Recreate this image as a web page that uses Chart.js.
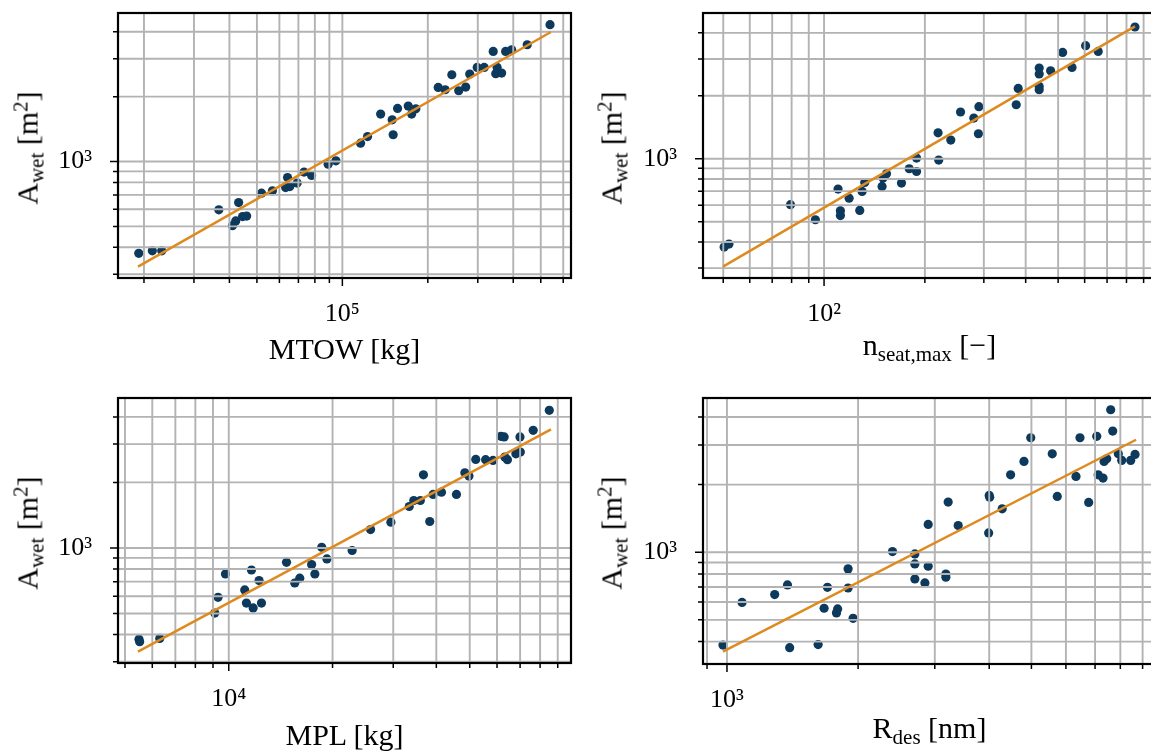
<!doctype html>
<html>
<head>
<meta charset="utf-8">
<script src="https://cdn.jsdelivr.net/npm/chart.js@4"></script>
<style>
  html, body { margin:0; padding:0; background:#fff; width:1151px; height:751px; overflow:hidden; }
  body { position:relative; font-family:"Liberation Serif", serif; color:#000; }
  canvas { position:absolute; }
  .xt, .yt { position:absolute; font-size:30px; line-height:30px; white-space:nowrap; }
  .xt { transform:translateX(-50%); }
  .yt { transform:translate(-50%, -50%) rotate(-90deg); }
  .sb { font-size:0.7em; position:relative; top:0.3em; }
  .sp { font-size:0.7em; position:relative; top:-0.5em; }
</style>
</head>
<body>
<script>
// wetted area against MTOW
const mtowKg = [19170, 21400, 23100, 36700, 43100, 41000, 42100, 44500, 46000, 51900, 56700, 63100,
  64100, 65300, 69300, 73300, 77900, 89100, 94900, 115900, 122700, 136400, 149800, 151000, 156500,
  170600, 175400, 181500, 217600, 230300, 243000, 257000, 272000, 281000, 298500, 316000, 340000,
  351000, 347000, 364000, 376000, 395000, 448000, 539000];
const awetMtow = [375, 385, 385, 597, 645, 504, 530, 555, 558, 713, 731, 757,
  843, 765, 794, 893, 861, 972, 1007, 1217, 1306, 1661, 1562, 1331, 1763,
  1808, 1661, 1757, 2207, 2153, 2527, 2130, 2215, 2547, 2733, 2733, 3243,
  2733, 2555, 2572, 3243, 3302, 3483, 4315];
const mtowFitX = [19060, 543000];
const mtowFitY = [325, 3990];

// wetted area against max seats
const nSeat = [50.3, 52.0, 79.4, 94.2, 110.1, 111.9, 111.9, 118.8, 127.8, 129.9, 132.3, 149,
  150, 153.6, 170.3, 179.6, 188.9, 188.9, 220, 219, 239, 255.6, 280, 290, 289, 374.8, 380,
  439, 439, 439, 439, 474.8, 515.7, 550, 604, 658.6, 848];
const awetSeat = [378, 391, 603, 511, 716, 564, 535, 648, 566, 698, 770, 737,
  809, 848, 765, 896, 869, 1008, 986, 1331, 1229, 1673, 1565, 1774, 1317, 1813, 2170,
  2716, 2543, 2218, 2138, 2636, 3226, 2734, 3473, 3262, 4267];
const seatFitX = [49.9, 848];
const seatFitY = [305, 4300];

// wetted area against max payload
const mplKg = [5490, 5515, 6306, 9107, 9310, 9782, 11126, 11253, 11637, 11768, 12244, 12442,
  14706, 15540, 16069, 17390, 17773, 18605, 19260, 22800, 25780, 29530, 33380, 34410, 35950,
  36700, 38280, 39160, 41400, 45760, 48400, 49740, 52060, 55600, 58410, 61580, 62930, 63200,
  64320, 68060, 70100, 69940, 76400, 85060];
const awetMpl = [381, 371, 384, 502, 593, 759, 641, 558, 792, 530, 708, 558,
  859, 690, 726, 839, 759, 1007, 890, 973, 1215, 1313, 1550, 1652, 1652,
  2168, 1323, 1761, 1804, 1761, 2214, 2138, 2551, 2545, 2525, 3256, 3236, 2615,
  2545, 2707, 2758, 3236, 3470, 4289];
const mplFitX = [5453, 86040];
const mplFitY = [334, 3507];

// wetted area against design range
const rangeNm = [979, 1083, 1287, 1377, 1393, 1619, 1671, 1701, 1784, 1795, 1897, 1897, 1948,
  2399, 2700, 2700, 2700, 2847, 2897, 2897, 3181, 3181, 3220, 3395, 4000, 4010, 3988, 4284,
  4479, 4807, 4982, 5582, 5732, 6328, 6463, 6767, 7062, 7116, 7301, 7341, 7445, 7603, 7684,
  7915, 8057, 8452, 8647];
const awetRange = [386, 598, 648, 715, 376, 388, 563, 698, 537, 559, 843, 693, 508,
  1007, 983, 887, 760, 730, 866, 1329, 800, 774, 1671, 1315, 1789, 1758, 1219, 1560,
  2211, 2536, 3231, 2742, 1771, 2174, 3231, 1665, 3279, 2211, 2137, 2536, 2605, 4307, 3461,
  2742, 2563, 2563, 2725];
const rangeFitX = [979, 8693];
const rangeFitY = [361, 3166];

// labelled decades
const awetMajor = [1000];
const awetMajorLabels = ['10³'];
const mtowMajor = [1e5];
const mtowMajorLabels = ['10⁵'];
const seatMajor = [100];
const seatMajorLabels = ['10²'];
const mplMajor = [1e4];
const mplMajorLabels = ['10⁴'];
const rangeMajor = [1000];
const rangeMajorLabels = ['10³'];

const yTitle = 'A<span class="sb">wet</span> [m<span class="sp">2</span>]';

const panels = [
  { box: [118, 13, 571, 278], xs: mtowKg, ys: awetMtow, fx: mtowFitX, fy: mtowFitY,
    xr: [16200, 639000], yr: [288, 4890], major: mtowMajor, labels: mtowMajorLabels,
    xTitle: 'MTOW [kg]', xBase: 359, yCx: 29 },
  { box: [703, 13, 1156, 278], xs: nSeat, ys: awetSeat, fx: seatFitX, fy: seatFitY,
    xr: [43.5, 980], yr: [269, 4978], major: seatMajor, labels: seatMajorLabels,
    xTitle: 'n<span class="sb">seat,max</span> [−]', xBase: 355, yCx: 613 },
  { box: [118, 398, 571, 663], xs: mplKg, ys: awetMpl, fx: mplFitX, fy: mplFitY,
    xr: [4772, 98340], yr: [296, 4886], major: mplMajor, labels: mplMajorLabels,
    xTitle: 'MPL [kg]', xBase: 745, yCx: 29 },
  { box: [703, 398, 1156, 664], xs: rangeNm, ys: awetRange, fx: rangeFitX, fy: rangeFitY,
    xr: [881, 9660], yr: [318, 4857], major: rangeMajor, labels: rangeMajorLabels,
    xTitle: 'R<span class="sb">des</span> [nm]', xBase: 738, yCx: 613 }
];

const FONT = '"Liberation Serif", serif';
const DOT = '#0d3a5c';
const FIT = '#de8a1f';
const GRID = '#b3b3b3';
const PAD = { l: 118, t: 12, r: 12, b: 62 };

// 1..9 x 10^n inside the axis range
function logTicks(min, max) {
  const out = [];
  for (let e = Math.floor(Math.log10(min)); e <= Math.ceil(Math.log10(max)); e++) {
    for (let m = 1; m < 10; m++) {
      const v = m * Math.pow(10, e);
      if (v >= min && v <= max) out.push(v);
    }
  }
  return out;
}
function isDecade(v) {
  const e = Math.log10(v);
  return Math.abs(e - Math.round(e)) < 1e-9;
}

// grid goes over the dots but under the fit line, ticks and frame on top
const axesBox = {
  id: 'axesBox',
  afterDatasetDraw(chart, args) {
    if (args.meta.type !== 'scatter') return;
    const { ctx, chartArea: a, scales: { x, y } } = chart;
    ctx.save();
    ctx.strokeStyle = GRID;
    ctx.lineWidth = 1.9;
    ctx.beginPath();
    x.ticks.forEach(t => {
      const px = x.getPixelForValue(t.value);
      ctx.moveTo(px, a.top); ctx.lineTo(px, a.bottom);
    });
    y.ticks.forEach(t => {
      const py = y.getPixelForValue(t.value);
      ctx.moveTo(a.left, py); ctx.lineTo(a.right, py);
    });
    ctx.stroke();
    ctx.restore();
  },
  afterDraw(chart) {
    const { ctx, chartArea: a, scales: { x, y } } = chart;
    ctx.save();
    ctx.strokeStyle = '#000';
    ctx.lineWidth = 1.5;
    ctx.beginPath();
    x.ticks.forEach(t => {
      const px = x.getPixelForValue(t.value);
      ctx.moveTo(px, a.bottom); ctx.lineTo(px, a.bottom + (isDecade(t.value) ? 8 : 5));
    });
    y.ticks.forEach(t => {
      const py = y.getPixelForValue(t.value);
      ctx.moveTo(a.left, py); ctx.lineTo(a.left - (isDecade(t.value) ? 8 : 5), py);
    });
    ctx.stroke();
    ctx.lineWidth = 2.2;
    ctx.strokeRect(a.left, a.top, a.right - a.left, a.bottom - a.top);
    ctx.restore();
  }
};

function axis(range, major, labels, pad, fit) {
  return {
    type: 'logarithmic',
    min: range[0],
    max: range[1],
    grid: { display: false, drawTicks: false },
    border: { display: false },
    ticks: {
      autoSkip: false,
      maxRotation: 0,
      color: '#000',
      font: { family: FONT, size: 26 },
      padding: pad,
      callback: v => {
        const i = major.findIndex(m => Math.abs(m - v) / m < 1e-9);
        return i >= 0 ? labels[i] : '';
      }
    },
    afterBuildTicks: s => { s.ticks = logTicks(range[0], range[1]).map(v => ({ value: v })); },
    afterFit: s => {
      // the box edges come from the layout padding alone
      s.paddingTop = 0; s.paddingBottom = 0; s.paddingLeft = 0; s.paddingRight = 0;
      fit(s);
    }
  };
}

panels.forEach(p => {
  const [l, t, r, b] = p.box;
  const cv = document.createElement('canvas');
  cv.width = PAD.l + (r - l) + PAD.r;
  cv.height = PAD.t + (b - t) + PAD.b;
  cv.style.left = (l - PAD.l) + 'px';
  cv.style.top = (t - PAD.t) + 'px';
  document.body.appendChild(cv);

  new Chart(cv, {
    type: 'scatter',
    data: {
      datasets: [
        {
          type: 'line',
          order: 0,
          data: p.fx.map((v, i) => ({ x: v, y: p.fy[i] })),
          borderColor: FIT,
          borderWidth: 2.5,
          pointRadius: 0,
          tension: 0,
          fill: false
        },
        {
          type: 'scatter',
          order: 1,
          data: p.xs.map((v, i) => ({ x: v, y: p.ys[i] })),
          backgroundColor: DOT,
          borderColor: DOT,
          borderWidth: 0,
          pointRadius: 4.6
        }
      ]
    },
    options: {
      responsive: false,
      animation: false,
      devicePixelRatio: 1,
      layout: { padding: { left: 0, top: PAD.t, right: PAD.r, bottom: 0 } },
      plugins: { legend: { display: false }, tooltip: { enabled: false } },
      scales: {
        x: axis(p.xr, p.major, p.labels, 21, s => { s.height = PAD.b; }),
        y: axis(p.yr, awetMajor, awetMajorLabels, 26, s => { s.width = PAD.l; })
      }
    },
    plugins: [axesBox]
  });

  const xt = document.createElement('div');
  xt.className = 'xt';
  xt.innerHTML = p.xTitle;
  xt.style.left = ((l + r) / 2) + 'px';
  xt.style.top = (p.xBase - 25) + 'px';
  document.body.appendChild(xt);

  const yt = document.createElement('div');
  yt.className = 'yt';
  yt.innerHTML = yTitle;
  yt.style.left = p.yCx + 'px';
  yt.style.top = ((t + b) / 2 + 2) + 'px';
  document.body.appendChild(yt);
});
</script>
</body>
</html>
